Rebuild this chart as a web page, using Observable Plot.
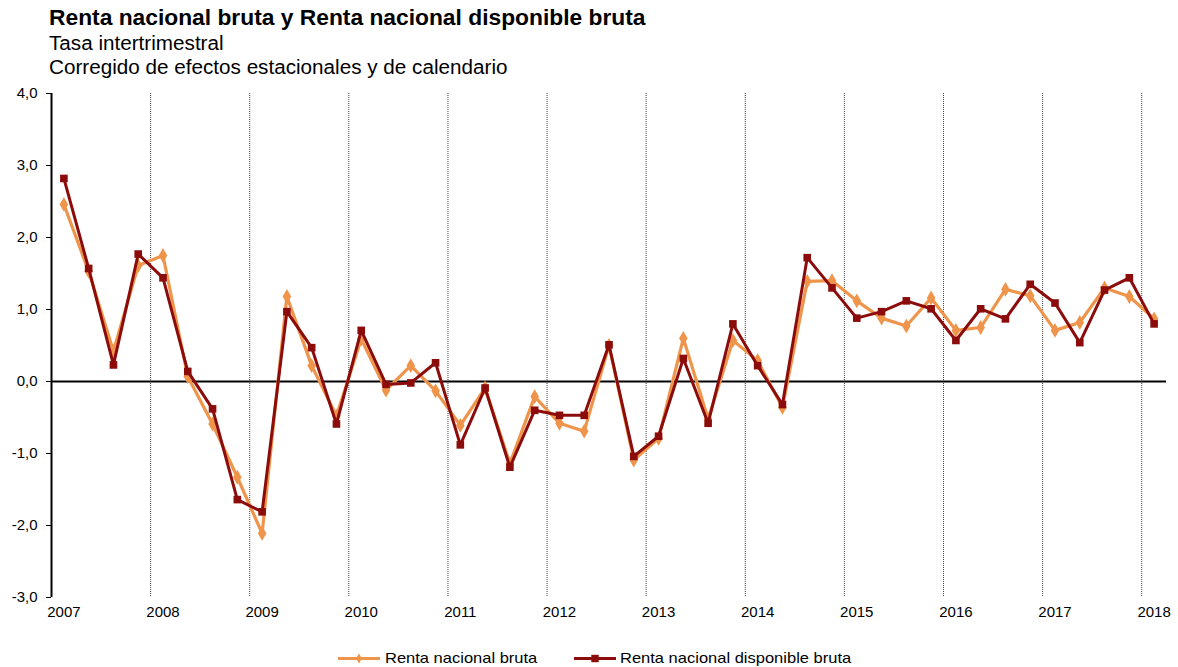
<!DOCTYPE html>
<html>
<head>
<meta charset="utf-8">
<script src="https://cdn.jsdelivr.net/npm/d3@7"></script>
<script src="https://cdn.jsdelivr.net/npm/@observablehq/plot@0.6"></script>
<style>
  body { margin: 0; background: #fff; font-family: Arial, "Liberation Sans", sans-serif; color: #000; }
  #wrap { position: relative; width: 1178px; height: 667px; overflow: hidden; }
  #head { position: absolute; left: 49px; top: 4px; }
  #head .t { font-weight: bold; font-size: 22px; line-height: 27px; transform: scaleX(1.036); transform-origin: 0 50%; white-space: nowrap; }
  #head .s { font-size: 19.5px; line-height: 24px; transform: scaleX(1.06); transform-origin: 0 50%; white-space: nowrap; }
  #chart { position: absolute; left: 0; top: 82px; }
  #legend { position: absolute; left: 0; top: 648px; width: 1178px; height: 20px; font-size: 15px; }
  #legend svg { position: absolute; top: 0; }
  #legend span { position: absolute; top: 1px; line-height: 18px; transform: scaleX(1.1); transform-origin: 0 50%; white-space: nowrap; }
</style>
</head>
<body>
<div id="wrap">
  <div id="head">
    <div class="t">Renta nacional bruta y Renta nacional disponible bruta</div>
    <div class="s">Tasa intertrimestral</div>
    <div class="s">Corregido de efectos estacionales y de calendario</div>
  </div>
  <div id="chart"></div>
  <div id="legend"></div>
</div>
<script>
// ---- data (quarterly, 2007 Q1 .. 2018 Q1) ----
const yearLabels = ["2007","2008","2009","2010","2011","2012","2013","2014","2015","2016","2017","2018"];
const quarterLabels = ["T1","T2","T3","T4"];
const seriesNames = ["Renta nacional bruta", "Renta nacional disponible bruta"];

// Renta nacional bruta (orange, diamonds)
const rnb = [
  2.46, 1.53, 0.42, 1.61,
  1.75, 0.07, -0.59, -1.33,
  -2.11, 1.18, 0.22, -0.48,
  0.59, -0.12, 0.22, -0.13,
  -0.61, -0.09, -1.14, -0.21,
  -0.58, -0.69, 0.50, -1.09,
  -0.79, 0.60, -0.52, 0.57,
  0.29, -0.36, 1.39, 1.40,
  1.12, 0.88, 0.77, 1.16,
  0.71, 0.75, 1.28, 1.19,
  0.71, 0.82, 1.30, 1.18,
  0.87
];

// Renta nacional disponible bruta (dark red, squares)
const rndb = [
  2.82, 1.57, 0.23, 1.77,
  1.44, 0.14, -0.38, -1.64,
  -1.81, 0.97, 0.47, -0.59,
  0.71, -0.04, -0.02, 0.26,
  -0.88, -0.09, -1.19, -0.40,
  -0.47, -0.47, 0.51, -1.04,
  -0.76, 0.32, -0.58, 0.80,
  0.22, -0.32, 1.72, 1.30,
  0.88, 0.97, 1.12, 1.01,
  0.57, 1.01, 0.87, 1.35,
  1.09, 0.54, 1.27, 1.44,
  0.80
];

const yTicks = [-3, -2, -1, 0, 1, 2, 3, 4];

// ---- build table ----
const periods = yearLabels.flatMap(y => quarterLabels.map(q => y + " " + q)).slice(0, rnb.length);
const data = rnb.map((v, i) => ({ i, period: periods[i], rnb: v, rndb: rndb[i] }));
const yearStartIdx = yearLabels.map((_, k) => k * 4);
const yearBoundaries = yearLabels.slice(1).map((_, k) => (k + 1) * 4 - 0.5);

const orange = "#EF954B";
const dark = "#8C0C0C";
const font = "Arial, 'Liberation Sans', sans-serif";

const chart = Plot.plot({
  width: 1178,
  height: 545,
  marginLeft: 51,
  marginRight: 12,
  marginTop: 11,
  marginBottom: 30,
  style: { fontFamily: font, fontSize: "15px", color: "#000", background: "#fff", overflow: "visible" },
  x: {
    type: "linear",
    domain: [-0.5, rnb.length - 0.5],
    ticks: yearStartIdx,
    tickFormat: i => yearLabels[Math.round(i / 4)],
    tickSize: 0,
    tickPadding: 9,
    label: null
  },
  y: {
    domain: [-3, 4],
    ticks: yTicks,
    tickFormat: d => d.toFixed(1).replace(".", ","),
    tickSize: 5,
    tickPadding: 9,
    label: null
  },
  marks: [
    Plot.ruleX(yearBoundaries, { stroke: "#444", strokeWidth: 1, strokeDasharray: "1,1" }),
    Plot.ruleY([0], { stroke: "#000", strokeWidth: 2 }),
    Plot.ruleX([-0.5], { y1: -3, y2: 4, stroke: "#000", strokeWidth: 2 }),
    Plot.line(data, { x: "i", y: "rnb", stroke: orange, strokeWidth: 3.2 }),
    Plot.dot(data, { x: "i", y: "rnb", symbol: "diamond", r: 4.5, fill: orange, stroke: "none" }),
    Plot.line(data, { x: "i", y: "rndb", stroke: dark, strokeWidth: 3 }),
    Plot.dot(data, { x: "i", y: "rndb", symbol: "square", r: 4.3, fill: dark, stroke: "none" })
  ]
});
document.getElementById("chart").appendChild(chart);

// ---- legend ----
const legend = document.getElementById("legend");
const legendItems = [
  { name: seriesNames[0], color: orange, marker: "diamond", left: 338, textLeft: 385 },
  { name: seriesNames[1], color: dark, marker: "square", left: 574, textLeft: 620 }
];
const ns = "http://www.w3.org/2000/svg";
for (const it of legendItems) {
  const svg = document.createElementNS(ns, "svg");
  svg.setAttribute("width", 42);
  svg.setAttribute("height", 20);
  svg.style.left = it.left + "px";
  const line = document.createElementNS(ns, "line");
  line.setAttribute("x1", 0); line.setAttribute("x2", 42);
  line.setAttribute("y1", 10.5); line.setAttribute("y2", 10.5);
  line.setAttribute("stroke", it.color); line.setAttribute("stroke-width", 3);
  svg.appendChild(line);
  const m = document.createElementNS(ns, "path");
  const sym = it.marker === "diamond" ? d3.symbolDiamond : d3.symbolSquare;
  m.setAttribute("d", d3.symbol(sym, it.marker === "diamond" ? 30 : 55)());
  m.setAttribute("transform", "translate(21,10.5)");
  m.setAttribute("fill", it.color);
  svg.appendChild(m);
  legend.appendChild(svg);
  const span = document.createElement("span");
  span.textContent = it.name;
  span.style.left = it.textLeft + "px";
  legend.appendChild(span);
}
</script>
</body>
</html>
